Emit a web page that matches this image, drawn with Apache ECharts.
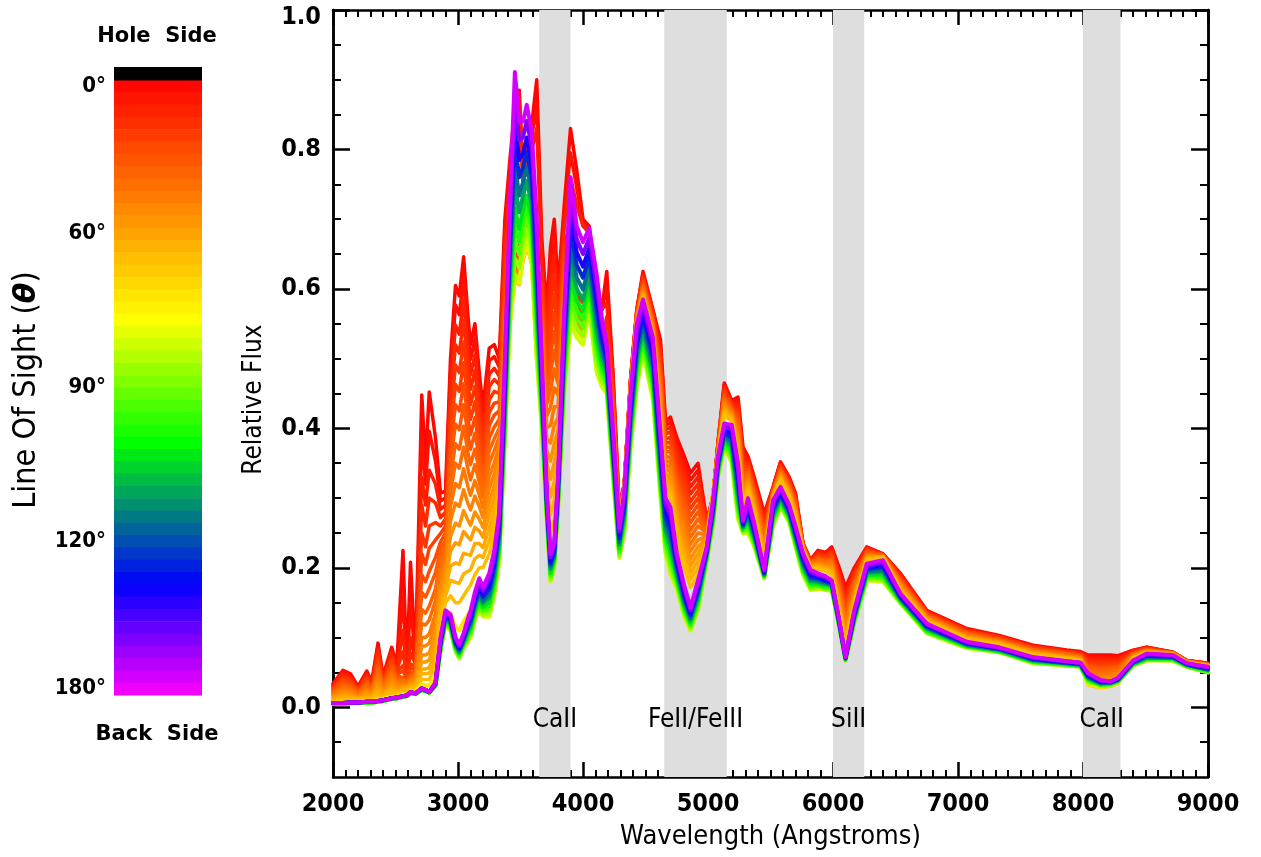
<!DOCTYPE html>
<html>
<head>
<meta charset="utf-8">
<script src="https://cdn.jsdelivr.net/npm/echarts@6/dist/echarts.min.js"></script>
<style>
  html, body { margin: 0; padding: 0; background: #ffffff; }
  #chart { width: 1261px; height: 857px; }
</style>
</head>
<body>
<div id="chart"></div>
<script>
// Wavelength grid (Angstroms) shared by every spectrum
const wavelengths = [
  2000, 2080, 2140, 2200, 2270, 2310, 2360, 2400, 2470, 2510,
  2560, 2590, 2620, 2660, 2710, 2740, 2770, 2820, 2860, 2900,
  2940, 2980, 3010, 3045, 3080, 3100, 3135, 3170, 3200, 3250,
  3290, 3330, 3375, 3415, 3455, 3490, 3520, 3550, 3590, 3630,
  3670, 3710, 3740, 3770, 3800, 3850, 3900, 3950, 4000, 4050,
  4110, 4150, 4190, 4240, 4290, 4330, 4380, 4430, 4480, 4560,
  4620, 4660, 4700, 4750, 4810, 4860, 4920, 4990, 5040, 5080,
  5130, 5190, 5240, 5280, 5320, 5370, 5450, 5520, 5580, 5650,
  5700, 5760, 5820, 5880, 5940, 5990, 6050, 6100, 6170, 6270,
  6400, 6540, 6750, 7070, 7330, 7600, 7870, 7980, 8040, 8140,
  8220, 8280, 8400, 8510, 8720, 8830, 9000
];

// Viewing angle of each spectrum (degrees from the hole side)
const lineOfSightDeg = [12, 18, 25, 29, 33, 36, 40, 43, 46, 48, 51, 53, 56, 58, 61, 63, 65,
  73, 82, 87, 92, 97, 103, 110, 116, 124, 133, 146, 160];

// Relative flux in thousandths, one array per viewing angle
const flux012 = [
  34, 53, 48, 30, 52, 37, 92, 45, 86, 60,
  225, 50, 208, 70, 448, 350, 452, 386, 307, 310,
  500, 605, 590, 646, 560, 520, 550, 480, 430, 515,
  520, 500, 700, 785, 860, 885, 765, 800, 836, 900,
  672, 570, 660, 700, 600, 720, 830, 770, 700, 690,
  600, 570, 625, 480, 285, 320, 470, 570, 625, 570,
  527, 410, 416, 387, 360, 336, 350, 268, 300, 380,
  465, 440, 445, 373, 360, 330, 278, 316, 352, 330,
  307, 235, 211, 225, 222, 230, 200, 172, 200, 230,
  220, 192, 139, 113, 103, 89, 82, 80, 75, 75,
  75, 74, 82, 86, 79, 67, 63
];
const flux018 = [
  33, 51, 46, 29, 50, 36, 87, 43, 82, 58,
  160, 49, 150, 68, 390, 320, 396, 353, 296, 300,
  479, 577, 563, 616, 536, 499, 528, 463, 416, 497,
  503, 488, 682, 768, 850, 873, 758, 790, 818, 865,
  656, 553, 635, 673, 583, 705, 795, 745, 695, 685,
  605, 570, 603, 473, 284, 320, 469, 569, 622, 568,
  519, 404, 409, 378, 350, 326, 340, 266, 301, 379,
  462, 438, 440, 367, 357, 327, 274, 315, 351, 328,
  305, 235, 211, 224, 221, 228, 196, 167, 197, 229,
  220, 191, 138, 112, 102, 88, 81, 79, 73, 72,
  72, 72, 81, 86, 79, 67, 63
];
const flux025 = [
  31, 48, 43, 27, 47, 34, 82, 41, 78, 55,
  110, 47, 100, 65, 330, 290, 340, 320, 284, 290,
  458, 548, 535, 585, 511, 477, 505, 445, 401, 478,
  486, 475, 663, 750, 840, 860, 750, 780, 800, 830,
  640, 536, 609, 646, 566, 690, 760, 720, 690, 680,
  610, 570, 580, 465, 282, 319, 468, 567, 619, 565,
  511, 398, 402, 369, 340, 316, 330, 264, 302, 378,
  459, 436, 434, 361, 354, 323, 269, 314, 349, 326,
  302, 234, 210, 222, 219, 225, 192, 161, 194, 228,
  219, 189, 137, 111, 101, 87, 80, 78, 70, 69,
  69, 69, 80, 85, 79, 67, 62
];
const flux029 = [
  30, 45, 41, 26, 45, 33, 78, 39, 74, 53,
  80, 45, 78, 62, 290, 260, 300, 293, 272, 280,
  437, 520, 508, 555, 487, 456, 483, 428, 387, 460,
  470, 463, 644, 725, 660, 660, 690, 710, 685, 570,
  624, 520, 584, 620, 550, 677, 610, 590, 580, 620,
  540, 520, 560, 458, 281, 319, 467, 566, 617, 563,
  503, 392, 395, 360, 330, 306, 320, 262, 303, 377,
  457, 435, 429, 356, 351, 320, 265, 313, 347, 325,
  300, 234, 209, 220, 217, 223, 188, 155, 191, 227,
  219, 188, 136, 110, 101, 87, 80, 78, 67, 66,
  67, 67, 80, 85, 79, 67, 62
];
const flux033 = [
  28, 42, 38, 25, 42, 31, 73, 37, 69, 50,
  60, 43, 62, 59, 250, 230, 260, 265, 260, 270,
  415, 491, 480, 524, 463, 434, 460, 410, 373, 441,
  453, 450, 625, 700, 650, 650, 680, 700, 675, 560,
  608, 503, 558, 593, 533, 663, 600, 580, 570, 610,
  530, 510, 540, 450, 279, 318, 466, 565, 614, 560,
  495, 385, 387, 350, 320, 295, 310, 260, 303, 375,
  454, 433, 424, 350, 348, 316, 260, 312, 345, 323,
  298, 233, 208, 218, 215, 220, 184, 149, 187, 225,
  219, 186, 135, 109, 100, 86, 79, 77, 64, 63,
  64, 64, 79, 84, 78, 66, 62
];
const flux036 = [
  26, 40, 36, 24, 40, 29, 68, 35, 65, 47,
  52, 42, 55, 57, 220, 205, 228, 240, 249, 260,
  394, 463, 453, 494, 439, 413, 438, 393, 359, 423,
  436, 438, 607, 675, 645, 645, 676, 696, 672, 555,
  593, 486, 532, 566, 516, 650, 595, 575, 565, 605,
  525, 505, 525, 443, 278, 318, 465, 564, 612, 558,
  487, 379, 380, 341, 310, 285, 300, 258, 304, 374,
  451, 431, 419, 344, 345, 313, 256, 311, 344, 321,
  296, 232, 208, 217, 214, 218, 180, 144, 184, 224,
  219, 184, 134, 108, 99, 85, 78, 76, 62, 60,
  61, 62, 78, 84, 78, 66, 62
];
const flux040 = [
  24, 37, 33, 22, 37, 27, 63, 33, 61, 44,
  43, 40, 47, 54, 190, 180, 195, 215, 237, 250,
  373, 434, 425, 464, 414, 391, 415, 375, 344, 404,
  419, 425, 588, 650, 640, 640, 672, 692, 668, 550,
  577, 469, 506, 539, 499, 636, 590, 570, 560, 600,
  520, 500, 510, 435, 276, 317, 463, 562, 609, 555,
  479, 373, 373, 332, 300, 275, 290, 256, 304, 373,
  448, 429, 413, 338, 341, 309, 251, 310, 342, 319,
  293, 231, 207, 215, 212, 215, 176, 138, 181, 223,
  218, 182, 133, 107, 98, 84, 77, 75, 59, 57,
  58, 59, 77, 83, 78, 66, 61
];
const flux043 = [
  23, 34, 31, 21, 35, 26, 58, 32, 57, 42,
  41, 38, 45, 51, 165, 158, 170, 193, 226, 240,
  352, 406, 398, 434, 390, 370, 393, 358, 330, 386,
  402, 413, 569, 635, 637, 636, 669, 689, 664, 545,
  561, 452, 481, 512, 482, 623, 585, 566, 556, 596,
  516, 496, 500, 428, 275, 317, 462, 561, 607, 553,
  472, 367, 366, 323, 290, 265, 280, 254, 305, 372,
  446, 427, 408, 333, 338, 306, 247, 309, 341, 317,
  291, 231, 207, 214, 211, 213, 172, 132, 178, 222,
  218, 181, 132, 106, 97, 83, 77, 74, 57, 55,
  56, 57, 77, 83, 78, 66, 61
];
const flux046 = [
  21, 31, 29, 20, 32, 24, 53, 30, 52, 39,
  39, 36, 43, 48, 140, 135, 145, 170, 214, 230,
  330, 378, 370, 403, 365, 348, 370, 340, 315, 368,
  385, 400, 550, 620, 633, 632, 665, 685, 660, 540,
  545, 435, 455, 485, 465, 609, 580, 562, 552, 592,
  512, 492, 490, 420, 273, 316, 461, 560, 604, 550,
  464, 360, 358, 314, 280, 254, 270, 252, 305, 370,
  443, 425, 403, 327, 335, 303, 242, 308, 339, 315,
  289, 230, 206, 212, 209, 210, 168, 126, 174, 220,
  217, 179, 131, 105, 96, 82, 76, 73, 54, 52,
  53, 54, 76, 82, 78, 66, 61
];
const flux048 = [
  20, 29, 27, 19, 29, 23, 48, 28, 48, 37,
  37, 35, 41, 46, 120, 118, 125, 153, 202, 220,
  309, 350, 343, 373, 341, 326, 348, 323, 301, 350,
  368, 388, 532, 610, 630, 629, 662, 682, 657, 535,
  529, 418, 430, 458, 448, 596, 576, 559, 549, 589,
  509, 489, 483, 413, 272, 316, 460, 559, 602, 548,
  456, 354, 351, 305, 270, 244, 260, 250, 306, 369,
  440, 423, 398, 321, 332, 300, 237, 307, 337, 313,
  287, 230, 205, 210, 207, 208, 164, 121, 171, 219,
  217, 178, 130, 104, 95, 81, 75, 72, 51, 49,
  50, 52, 75, 82, 78, 66, 61
];
const flux051 = [
  18, 26, 24, 17, 26, 21, 43, 26, 44, 34,
  35, 33, 39, 43, 100, 100, 105, 135, 190, 210,
  288, 321, 315, 342, 316, 304, 325, 305, 286, 331,
  351, 375, 513, 600, 626, 625, 658, 678, 654, 530,
  513, 401, 404, 431, 431, 582, 572, 555, 545, 585,
  505, 485, 475, 405, 270, 315, 459, 558, 599, 545,
  448, 348, 344, 295, 260, 234, 250, 247, 306, 368,
  437, 421, 392, 315, 329, 296, 232, 306, 335, 311,
  284, 229, 204, 208, 205, 205, 159, 115, 168, 218,
  216, 176, 129, 103, 94, 80, 74, 71, 48, 46,
  47, 49, 74, 81, 77, 65, 61
];
const flux053 = [
  17, 23, 22, 16, 24, 20, 39, 24, 40, 32,
  33, 31, 37, 40, 88, 88, 92, 120, 179, 200,
  267, 293, 288, 312, 292, 283, 303, 288, 272, 313,
  335, 363, 494, 593, 623, 622, 655, 675, 651, 525,
  498, 385, 379, 405, 415, 569, 569, 552, 542, 583,
  502, 482, 470, 398, 269, 315, 458, 557, 597, 543,
  440, 342, 337, 286, 250, 224, 240, 245, 306, 367,
  434, 420, 387, 309, 326, 293, 228, 305, 334, 310,
  282, 229, 204, 207, 204, 203, 155, 109, 165, 217,
  216, 175, 128, 102, 94, 80, 73, 71, 46, 43,
  44, 47, 73, 81, 77, 65, 61
];
const flux056 = [
  15, 20, 19, 14, 21, 18, 34, 22, 35, 29,
  31, 29, 35, 37, 75, 75, 78, 105, 167, 190,
  245, 264, 260, 282, 268, 261, 280, 270, 258, 294,
  318, 350, 475, 585, 620, 618, 652, 672, 648, 520,
  482, 368, 353, 378, 398, 555, 565, 548, 538, 580,
  498, 478, 465, 390, 267, 314, 457, 556, 595, 540,
  432, 335, 329, 277, 240, 213, 230, 243, 306, 365,
  431, 418, 381, 303, 323, 289, 223, 304, 332, 308,
  279, 228, 203, 205, 202, 200, 151, 103, 161, 215,
  216, 173, 127, 101, 93, 79, 72, 70, 43, 40,
  41, 44, 72, 80, 77, 65, 60
];
const flux058 = [
  13, 18, 17, 13, 19, 16, 29, 20, 31, 26,
  29, 28, 33, 35, 65, 65, 68, 93, 155, 180,
  224, 236, 233, 252, 244, 240, 258, 253, 244, 276,
  301, 338, 457, 578, 618, 615, 649, 669, 645, 515,
  466, 351, 327, 351, 381, 542, 562, 545, 535, 578,
  495, 475, 462, 383, 265, 314, 456, 555, 593, 538,
  424, 329, 322, 268, 230, 203, 220, 241, 307, 364,
  429, 416, 376, 298, 320, 286, 219, 303, 330, 306,
  277, 227, 202, 203, 200, 198, 147, 98, 158, 214,
  216, 171, 126, 100, 92, 78, 72, 69, 40, 37,
  39, 42, 72, 80, 77, 65, 60
];
const flux061 = [
  11, 15, 14, 12, 16, 14, 24, 18, 27, 23,
  26, 26, 30, 32, 55, 55, 57, 80, 143, 170,
  203, 207, 205, 221, 219, 218, 235, 235, 229, 257,
  284, 325, 438, 570, 615, 612, 646, 666, 642, 510,
  450, 334, 301, 324, 364, 528, 558, 542, 532, 575,
  492, 472, 458, 375, 263, 313, 455, 554, 591, 535,
  416, 323, 315, 258, 220, 193, 210, 239, 307, 363,
  426, 414, 371, 292, 316, 282, 214, 302, 328, 304,
  275, 226, 201, 201, 198, 195, 143, 92, 155, 213,
  215, 169, 125, 99, 91, 77, 71, 68, 37, 34,
  36, 39, 71, 79, 76, 64, 60
];
const flux063 = [
  10, 12, 12, 11, 14, 13, 19, 16, 23, 21,
  24, 24, 28, 29, 48, 48, 49, 70, 132, 160,
  182, 179, 178, 191, 195, 197, 213, 218, 215, 239,
  267, 313, 419, 563, 613, 609, 643, 663, 639, 505,
  435, 317, 276, 297, 347, 514, 555, 539, 529, 573,
  489, 469, 455, 368, 262, 313, 454, 553, 589, 533,
  408, 317, 308, 249, 210, 183, 200, 237, 307, 362,
  423, 412, 366, 286, 313, 279, 210, 301, 327, 302,
  273, 226, 201, 200, 197, 193, 139, 86, 152, 212,
  215, 168, 124, 98, 90, 76, 70, 67, 35, 31,
  33, 37, 70, 79, 76, 64, 60
];
const flux065 = [
  8, 9, 9, 9, 11, 11, 14, 14, 18, 18,
  22, 22, 26, 26, 40, 40, 40, 60, 120, 150,
  160, 150, 150, 160, 170, 175, 190, 200, 200, 220,
  250, 300, 400, 555, 610, 606, 640, 660, 636, 500,
  420, 300, 250, 270, 330, 500, 552, 536, 526, 570,
  486, 466, 452, 360, 260, 312, 452, 552, 587, 531,
  400, 310, 300, 240, 200, 172, 190, 235, 307, 360,
  420, 410, 360, 280, 310, 275, 205, 300, 325, 300,
  270, 225, 200, 198, 195, 190, 135, 80, 148, 210,
  214, 166, 123, 97, 89, 75, 69, 66, 32, 28,
  30, 34, 69, 78, 76, 64, 59
];
const flux073 = [
  7, 7, 8, 8, 9, 9, 11, 12, 15, 16,
  19, 19, 23, 23, 33, 32, 31, 45, 100, 135,
  135, 115, 110, 123, 133, 138, 158, 170, 165, 175,
  205, 255, 390, 552, 615, 608, 645, 665, 638, 500,
  410, 285, 215, 235, 305, 475, 551, 533, 523, 570,
  483, 463, 449, 345, 237, 281, 411, 506, 548, 486,
  350, 265, 245, 205, 165, 141, 165, 223, 284, 345,
  397, 380, 315, 265, 280, 253, 195, 280, 306, 283,
  250, 208, 184, 184, 182, 179, 125, 74, 134, 196,
  197, 158, 115, 91, 84, 69, 65, 62, 33, 29,
  31, 35, 64, 72, 71, 61, 55
];
const flux082 = [
  5, 5, 6, 6, 7, 7, 8, 9, 12, 13,
  15, 16, 20, 19, 25, 23, 21, 30, 80, 120,
  110, 80, 70, 85, 95, 100, 125, 140, 130, 130,
  160, 210, 380, 550, 620, 610, 650, 670, 640, 500,
  400, 270, 180, 200, 280, 450, 550, 530, 520, 570,
  480, 460, 450, 330, 214, 250, 370, 460, 508, 440,
  300, 220, 190, 170, 130, 110, 140, 210, 260, 330,
  373, 350, 270, 250, 250, 230, 185, 260, 287, 265,
  230, 190, 168, 170, 168, 168, 115, 67, 120, 182,
  180, 149, 106, 85, 79, 63, 60, 58, 35, 31,
  32, 36, 60, 67, 67, 58, 50
];
const flux087 = [
  5, 5, 6, 6, 7, 7, 8, 9, 12, 13,
  15, 16, 20, 19, 25, 23, 21, 30, 81, 121,
  112, 81, 71, 87, 98, 103, 128, 144, 133, 135,
  165, 216, 390, 564, 644, 630, 666, 686, 656, 517,
  408, 273, 183, 203, 284, 460, 568, 543, 532, 580,
  492, 468, 456, 336, 217, 255, 377, 467, 514, 447,
  308, 227, 198, 174, 134, 113, 143, 211, 263, 332,
  376, 354, 277, 251, 254, 233, 186, 263, 289, 267,
  232, 192, 170, 172, 169, 169, 116, 67, 121, 184,
  182, 150, 107, 86, 79, 64, 60, 58, 36, 31,
  32, 36, 60, 68, 67, 58, 50
];
const flux092 = [
  5, 5, 6, 6, 7, 7, 8, 9, 12, 13,
  15, 16, 20, 19, 25, 23, 21, 31, 83, 123,
  114, 83, 73, 89, 101, 106, 132, 148, 137, 141,
  171, 222, 400, 579, 669, 649, 682, 703, 672, 534,
  417, 277, 187, 206, 289, 470, 586, 557, 545, 590,
  504, 477, 462, 342, 221, 260, 384, 475, 521, 455,
  316, 234, 206, 179, 138, 116, 147, 213, 266, 335,
  379, 359, 284, 253, 259, 236, 187, 266, 292, 269,
  235, 195, 173, 174, 171, 170, 117, 68, 123, 186,
  185, 151, 108, 87, 80, 65, 61, 59, 38, 32,
  33, 37, 61, 69, 68, 59, 51
];
const flux097 = [
  5, 5, 6, 6, 7, 7, 8, 9, 12, 13,
  15, 16, 20, 19, 25, 23, 21, 31, 85, 124,
  116, 85, 75, 90, 103, 109, 135, 151, 140, 145,
  176, 227, 410, 592, 692, 667, 697, 718, 686, 550,
  425, 280, 190, 209, 293, 480, 602, 570, 557, 600,
  515, 485, 467, 347, 224, 265, 390, 482, 527, 462,
  323, 240, 214, 183, 141, 118, 150, 215, 269, 337,
  381, 363, 290, 254, 263, 238, 188, 269, 294, 271,
  237, 197, 175, 175, 173, 171, 117, 68, 124, 188,
  187, 152, 109, 87, 80, 65, 61, 59, 39, 32,
  33, 37, 61, 69, 69, 59, 52
];
const flux103 = [
  5, 5, 6, 6, 7, 7, 8, 9, 12, 13,
  15, 16, 21, 19, 26, 24, 21, 32, 87, 126,
  118, 87, 77, 92, 106, 113, 138, 155, 144, 150,
  181, 233, 420, 606, 716, 686, 713, 734, 701, 566,
  433, 283, 193, 212, 297, 490, 619, 583, 569, 609,
  526, 493, 473, 353, 228, 270, 396, 490, 533, 470,
  331, 246, 222, 187, 145, 121, 154, 217, 272, 340,
  384, 368, 296, 256, 267, 241, 189, 272, 297, 273,
  240, 200, 178, 177, 175, 173, 118, 69, 126, 190,
  190, 153, 111, 88, 81, 66, 62, 60, 41, 33,
  34, 38, 62, 70, 70, 60, 53
];
const flux110 = [
  6, 6, 7, 7, 8, 8, 9, 10, 13, 14,
  16, 17, 21, 20, 26, 24, 22, 33, 89, 128,
  120, 89, 79, 94, 110, 117, 143, 160, 149, 157,
  188, 241, 433, 624, 747, 710, 733, 755, 721, 587,
  444, 288, 198, 216, 302, 503, 641, 600, 584, 621,
  541, 504, 481, 361, 233, 276, 405, 500, 542, 480,
  341, 255, 232, 193, 150, 125, 159, 219, 276, 343,
  388, 374, 305, 258, 272, 245, 190, 276, 300, 276,
  243, 204, 181, 180, 177, 175, 119, 70, 128, 193,
  194, 155, 113, 89, 82, 67, 63, 61, 42, 34,
  35, 39, 63, 71, 71, 61, 54
];
const flux116 = [
  6, 6, 7, 7, 8, 8, 9, 10, 13, 14,
  16, 17, 21, 20, 26, 24, 22, 33, 91, 130,
  122, 91, 81, 96, 113, 121, 147, 164, 153, 163,
  195, 248, 445, 642, 777, 734, 753, 775, 740, 608,
  454, 292, 202, 219, 307, 515, 663, 616, 599, 633,
  556, 514, 488, 368, 237, 282, 413, 509, 550, 489,
  350, 263, 242, 198, 154, 128, 163, 221, 280, 346,
  391, 380, 313, 260, 277, 248, 191, 280, 303, 279,
  246, 207, 184, 182, 179, 176, 120, 70, 130, 195,
  197, 156, 114, 90, 83, 68, 63, 61, 43, 35,
  35, 39, 64, 72, 71, 61, 54
];
const flux124 = [
  6, 6, 7, 7, 8, 8, 9, 10, 13, 14,
  16, 17, 22, 20, 27, 25, 22, 34, 93, 132,
  125, 93, 83, 99, 117, 125, 151, 169, 158, 170,
  202, 256, 458, 661, 809, 760, 774, 796, 760, 630,
  465, 296, 206, 223, 313, 528, 687, 634, 616, 646,
  571, 525, 496, 376, 242, 289, 422, 519, 559, 499,
  361, 272, 253, 204, 159, 132, 168, 223, 284, 350,
  395, 386, 322, 262, 283, 252, 193, 284, 306, 282,
  250, 211, 187, 185, 181, 178, 122, 71, 132, 198,
  201, 158, 116, 91, 84, 69, 64, 62, 45, 36,
  36, 40, 65, 74, 72, 62, 55
];
const flux133 = [
  6, 6, 7, 7, 8, 8, 9, 10, 13, 14,
  16, 17, 22, 20, 27, 25, 22, 34, 95, 134,
  127, 95, 85, 101, 120, 129, 155, 174, 162, 177,
  209, 263, 471, 679, 841, 785, 794, 817, 780, 652,
  476, 300, 210, 227, 318, 541, 710, 652, 632, 659,
  586, 536, 503, 383, 247, 296, 431, 528, 567, 508,
  371, 281, 264, 209, 164, 135, 172, 225, 288, 353,
  399, 392, 331, 264, 288, 256, 194, 288, 309, 284,
  253, 214, 190, 187, 183, 179, 123, 71, 134, 200,
  204, 160, 117, 92, 84, 70, 65, 63, 46, 37,
  36, 41, 65, 75, 73, 62, 56
];
const flux146 = [
  6, 6, 7, 7, 8, 8, 9, 10, 13, 14,
  16, 17, 22, 20, 27, 25, 22, 35, 98, 137,
  130, 98, 88, 104, 124, 134, 160, 180, 167, 185,
  217, 272, 486, 700, 876, 813, 817, 841, 803, 676,
  488, 305, 215, 231, 324, 556, 735, 671, 650, 673,
  603, 548, 512, 392, 252, 303, 441, 539, 576, 519,
  382, 291, 276, 215, 170, 139, 177, 228, 293, 357,
  403, 399, 341, 266, 294, 260, 196, 293, 313, 287,
  257, 218, 194, 190, 186, 181, 124, 72, 137, 203,
  208, 162, 119, 93, 85, 71, 66, 64, 48, 38,
  37, 42, 66, 76, 74, 63, 57
];
const flux160 = [
  6, 6, 7, 7, 8, 8, 9, 10, 13, 14,
  16, 17, 22, 20, 27, 25, 22, 35, 100, 139,
  133, 100, 90, 106, 128, 138, 165, 185, 172, 192,
  225, 280, 500, 720, 911, 840, 840, 864, 826, 700,
  500, 310, 220, 235, 330, 570, 760, 690, 667, 687,
  620, 560, 520, 400, 257, 310, 450, 550, 585, 530,
  393, 300, 287, 221, 175, 143, 182, 230, 297, 360,
  407, 405, 350, 268, 300, 264, 197, 297, 316, 290,
  260, 221, 197, 192, 188, 182, 125, 72, 139, 206,
  211, 163, 120, 94, 86, 72, 66, 64, 49, 39,
  37, 42, 67, 77, 75, 63, 58
];

// Shaded line-forming regions
const bandStart = [3650, 4650, 6000, 8000];
const bandEnd = [3900, 5150, 6250, 8300];
const bandLabels = ['CaII', 'FeII/FeIII', 'SiII', 'CaII'];

// Axis ticks
const yTickValues = [0, 0.2, 0.4, 0.6, 0.8, 1.0];
const yMinorTickValues = [-0.05, 0.05, 0.1, 0.15, 0.25, 0.3, 0.35, 0.45, 0.5, 0.55, 0.65, 0.7, 0.75, 0.85, 0.9, 0.95];
const colorbarTickDeg = [0, 60, 90, 120, 180];

const spectra = [flux012, flux018, flux025, flux029, flux033, flux036, flux040, flux043,
  flux046, flux048, flux051, flux053, flux056, flux058, flux061, flux063, flux065,
  flux073, flux082, flux087, flux092, flux097, flux103, flux110, flux116, flux124,
  flux133, flux146, flux160];

// Rainbow colormap indexed by (1 - cos theta) / 2
const cmapStops = [
  [0.00, [255, 0, 0]],
  [0.39, [255, 255, 0]],
  [0.59, [0, 255, 0]],
  [0.82, [0, 0, 255]],
  [1.00, [255, 0, 255]]
];
function cmap(t) {
  t = Math.max(0, Math.min(1, t));
  for (let i = 1; i < cmapStops.length; i++) {
    const [t1, c1] = cmapStops[i];
    const [t0, c0] = cmapStops[i - 1];
    if (t <= t1) {
      const f = (t - t0) / (t1 - t0);
      const c = c0.map((v, k) => Math.round(v + (c1[k] - v) * f));
      return 'rgb(' + c.join(',') + ')';
    }
  }
  return 'rgb(255,0,255)';
}
const degToT = d => (1 - Math.cos(d * Math.PI / 180)) / 2;

const LABEL_FONT = '"DejaVu Sans Condensed", "DejaVu Sans", sans-serif';
const TITLE_FONT = '"DejaVu Sans Condensed", "DejaVu Sans", sans-serif';

// Spectra drawn in angle order: hole side first, back side last
const lineSeries = lineOfSightDeg.map((deg, i) => ({
  type: 'line',
  name: deg + '°',
  xAxisIndex: 0,
  yAxisIndex: 0,
  data: wavelengths.map((w, j) => [w, spectra[i][j] / 1000]),
  showSymbol: false,
  symbol: 'none',
  silent: true,
  z: 3,
  lineStyle: { width: deg > 70 ? 4 : 3.5, color: cmap(degToT(deg)), join: 'round', cap: 'round' }
}));

const bandSeries = {
  type: 'line',
  name: 'bands',
  xAxisIndex: 0,
  yAxisIndex: 0,
  data: [],
  silent: true,
  z: 1,
  markArea: {
    silent: true,
    itemStyle: { color: '#dedede' },
    label: {
      show: true,
      position: 'insideBottom',
      distance: 44,
      color: '#000',
      fontFamily: TITLE_FONT,
      fontSize: 26
    },
    data: bandStart.map((s, i) => [{ xAxis: s, name: bandLabels[i] }, { xAxis: bandEnd[i] }])
  }
};

// Colour bar: 50 bins in cos(theta) plus a black cap on the hole side
const colorbarBins = 50;
const holeCap = 0.0423;
const colorbarData = [];
for (let k = 0; k < colorbarBins; k++) {
  const hi = 1 - 2 * k / colorbarBins;
  const lo = 1 - 2 * (k + 1) / colorbarBins;
  colorbarData.push({ value: [hi, lo], itemStyle: { color: cmap((k + 0.5) / colorbarBins) } });
}
colorbarData.push({ value: [1 + holeCap, 1], itemStyle: { color: '#000000' } });

const colorbarSeries = {
  type: 'custom',
  xAxisIndex: 2,
  yAxisIndex: 4,
  silent: true,
  data: colorbarData,
  renderItem: function (params, api) {
    const a = api.coord([0, api.value(0)]);
    const b = api.coord([1, api.value(1)]);
    return {
      type: 'rect',
      shape: { x: a[0], y: a[1], width: b[0] - a[0], height: b[1] - a[1] + 0.6 },
      style: { fill: api.visual('color') }
    };
  }
};

const axisLineStyle = { color: '#000', width: 2.5 };
const xRange = { min: 2000, max: 9000, interval: 1000 };
const yRange = { min: -0.1, max: 1.0 };

function xAxisDef(pos, showLabels) {
  return Object.assign({
    type: 'value',
    gridIndex: 0,
    position: pos,
    axisLine: { show: true, onZero: false, lineStyle: axisLineStyle },
    axisTick: { show: true, inside: true, length: 15, lineStyle: { color: '#000', width: 2.5 } },
    minorTick: { show: true, splitNumber: 10, length: 7, lineStyle: { color: '#000', width: 2 } },
    splitLine: { show: false },
    minorSplitLine: { show: false },
    axisLabel: {
      show: showLabels,
      color: '#000',
      fontFamily: LABEL_FONT,
      fontWeight: 'bold',
      fontSize: 25,
      margin: 15,
      formatter: v => String(v)
    }
  }, xRange);
}

function yAxisDef(pos, major) {
  const ax = Object.assign({
    type: 'value',
    gridIndex: 0,
    position: pos,
    axisLine: { show: true, onZero: false, lineStyle: axisLineStyle },
    axisTick: {
      show: true, inside: true, length: major ? 17 : 8,
      lineStyle: { color: '#000', width: major ? 2.5 : 2 },
      customValues: major ? yTickValues : yMinorTickValues
    },
    splitLine: { show: false },
    axisLabel: { show: false }
  }, yRange);
  if (major && pos === 'left') {
    const labelStyle = { color: '#000', fontFamily: LABEL_FONT, fontWeight: 'bold', fontSize: 25 };
    ax.axisLabel = {
      show: true,
      customValues: yTickValues,
      margin: 12,
      formatter: v => (v >= 1 ? '{top|' : '{std|') + v.toFixed(1) + '}',
      rich: {
        std: labelStyle,
        top: Object.assign({ padding: [14, 0, 0, 0] }, labelStyle)
      }
    };
    ax.name = 'Relative Flux';
    ax.nameLocation = 'middle';
    ax.nameRotate = 90;
    ax.nameGap = 66;
    ax.nameTextStyle = { color: '#000', fontFamily: TITLE_FONT, fontSize: 26, padding: [0, 12, 0, 0] };
  }
  return ax;
}

const option = {
  animation: false,
  backgroundColor: '#ffffff',
  textStyle: { fontFamily: LABEL_FONT },
  grid: [
    { left: 333, top: 10, width: 875, height: 767, containLabel: false },
    { left: 114, top: 67, width: 88, height: 628, containLabel: false }
  ],
  xAxis: [
    Object.assign(xAxisDef('bottom', true), {
      name: 'Wavelength (Angstroms)',
      nameLocation: 'middle',
      nameGap: 46,
      nameTextStyle: { color: '#000', fontFamily: TITLE_FONT, fontSize: 27 }
    }),
    xAxisDef('top', false),
    { type: 'value', gridIndex: 1, min: 0, max: 1, show: false }
  ],
  yAxis: [
    yAxisDef('left', true),
    yAxisDef('left', false),
    yAxisDef('right', true),
    yAxisDef('right', false),
    {
      type: 'value',
      gridIndex: 1,
      min: -1,
      max: 1 + holeCap,
      position: 'left',
      axisLine: { show: false },
      axisTick: { show: false, customValues: colorbarTickDeg.map(d => Math.cos(d * Math.PI / 180)) },
      splitLine: { show: false },
      axisLabel: {
        show: true,
        customValues: colorbarTickDeg.map(d => Math.cos(d * Math.PI / 180)),
        margin: 8,
        formatter: v => {
          const d = Math.round(Math.acos(Math.max(-1, Math.min(1, v))) * 180 / Math.PI);
          if (d === 0) return '{first|' + d + '°}';
          if (d === 180) return '{last|' + d + '°}';
          return '{mid|' + d + '°}';
        },
        rich: {
          first: { color: '#000', fontFamily: LABEL_FONT, fontWeight: 'bold', fontSize: 22, padding: [12, 0, 0, 0] },
          mid: { color: '#000', fontFamily: LABEL_FONT, fontWeight: 'bold', fontSize: 22 },
          last: { color: '#000', fontFamily: LABEL_FONT, fontWeight: 'bold', fontSize: 22, padding: [0, 0, 14, 0] }
        }
      },
      name: 'Line Of Sight ({th|θ})',
      nameLocation: 'middle',
      nameRotate: 90,
      nameGap: 71,
      nameTextStyle: {
        color: '#000', fontFamily: TITLE_FONT, fontSize: 32, padding: [0, 18, 0, 0],
        rich: { th: { color: '#000', fontFamily: '"DejaVu Sans", sans-serif', fontStyle: 'italic', fontWeight: 'bold', fontSize: 30 } }
      }
    }
  ],
  graphic: [
    {
      type: 'text', x: 157, y: 37,
      style: {
        text: 'Hole  Side', fill: '#000', font: 'bold 21px "DejaVu Sans", sans-serif',
        align: 'center', verticalAlign: 'middle', textAlign: 'center', textVerticalAlign: 'middle'
      }
    },
    {
      type: 'text', x: 157, y: 735,
      style: {
        text: 'Back  Side', fill: '#000', font: 'bold 21px "DejaVu Sans", sans-serif',
        align: 'center', verticalAlign: 'middle', textAlign: 'center', textVerticalAlign: 'middle'
      }
    }
  ],
  series: [bandSeries].concat(lineSeries, [colorbarSeries])
};

const chart = echarts.init(document.getElementById('chart'), null, { renderer: 'canvas' });
chart.setOption(option);
</script>
</body>
</html>
